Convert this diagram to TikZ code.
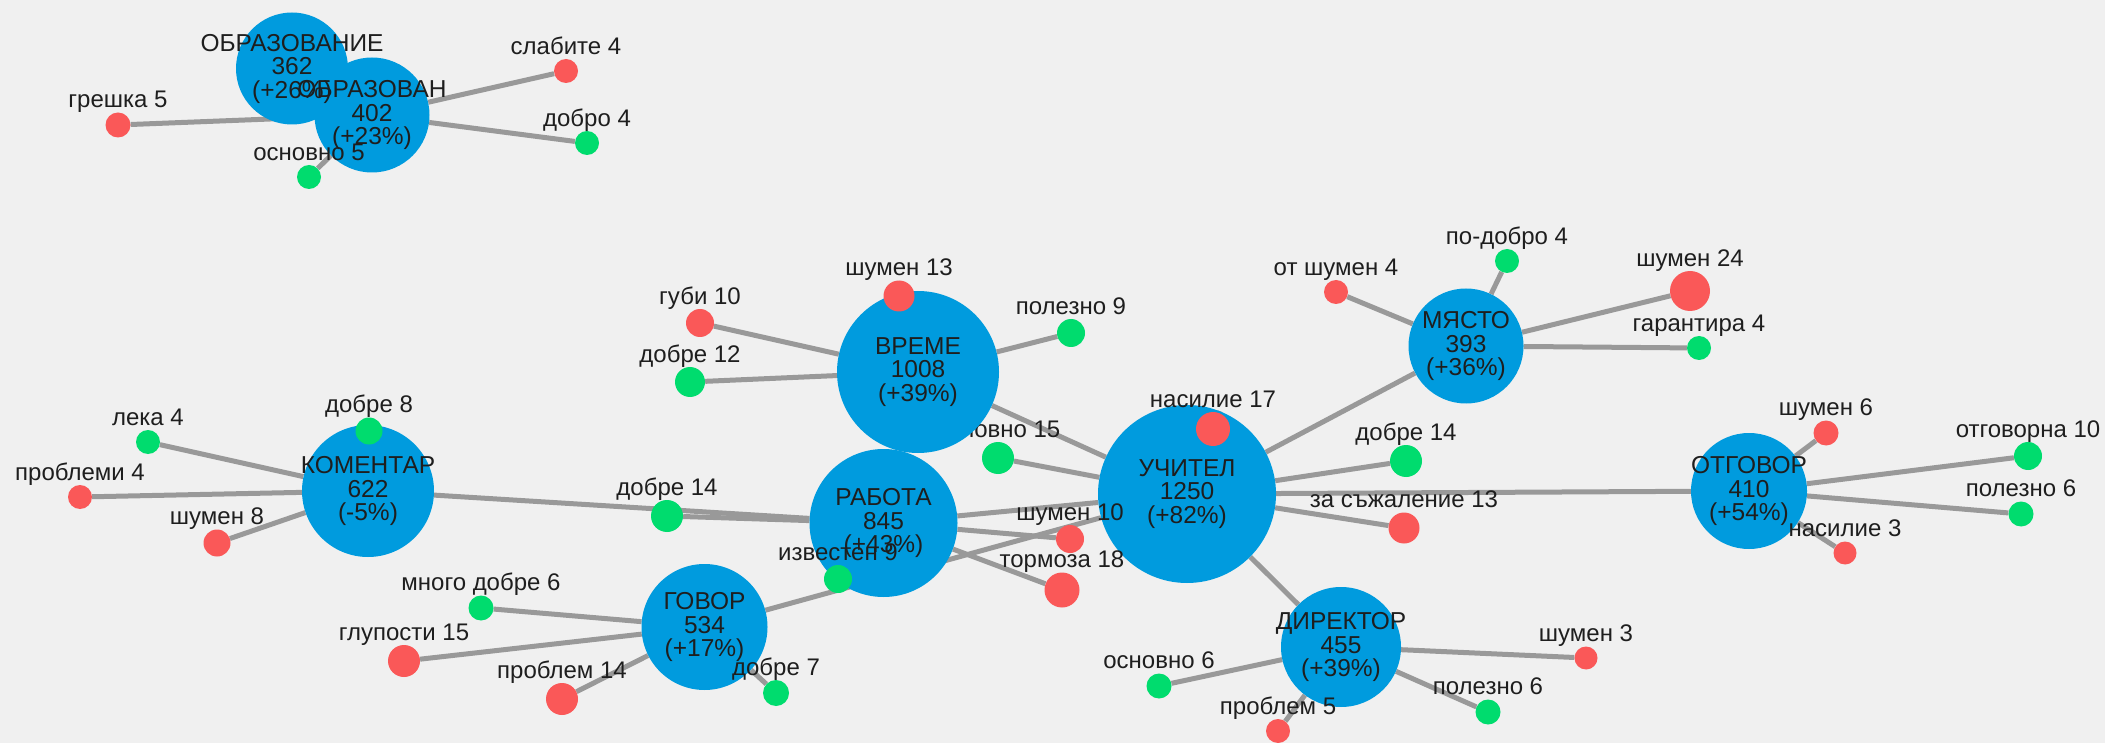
\documentclass[tikz,border=0pt]{standalone}
\usepackage{fontspec}
\setmainfont{Liberation Sans}
\definecolor{bgc}{RGB}{240,240,240}
\definecolor{kwblue}{RGB}{0,155,222}
\definecolor{wred}{RGB}{250,88,88}
\definecolor{wgreen}{RGB}{0,220,110}
\definecolor{linkgray}{RGB}{153,153,153}
\definecolor{txt}{RGB}{30,30,30}
\pgfdeclarelayer{edges}
\pgfsetlayers{edges,main}
\begin{document}
\begin{tikzpicture}[x=1pt,y=-1pt,
    kw/.style={circle,fill=kwblue,inner sep=0pt},
    kwlabel/.style={align=center,text=txt,inner sep=0pt,font=\fontsize{24.5}{23.5}\selectfont},
    goodword/.style={circle,fill=wgreen,inner sep=0pt},
    badword/.style={circle,fill=wred,inner sep=0pt},
    wlabel/.style={anchor=base,text=txt,inner sep=0pt,font=\fontsize{24}{24}\selectfont},
    link/.style={draw=linkgray,line width=5pt}]
    \useasboundingbox (0,0) rectangle (2105,743);

    % word hidden partly behind ВРЕМЕ
    \node[goodword,minimum size=32pt] (osnovnoB) at (998,458) {};
    \node[wlabel] at ([yshift=4.5pt]osnovnoB.north) {основно 15};

    % keyword circles
    \node[kw,minimum size=115pt] (obrazovan) at (372,115) {};
    \node[kw,minimum size=112pt] (obrazovanie) at (292,68.5) {};
    \node[kw,minimum size=162pt] (vreme) at (918,372) {};
    \node[kw,minimum size=132pt] (komentar) at (368,491) {};
    \node[kw,minimum size=148pt] (rabota) at (883.5,523) {};
    \node[kw,minimum size=126pt] (govor) at (704.5,627) {};
    \node[kw,minimum size=178pt] (uchitel) at (1187,494) {};
    \node[kw,minimum size=115pt] (myasto) at (1466,346) {};
    \node[kw,minimum size=116pt] (otgovor) at (1749,491) {};
    \node[kw,minimum size=120pt] (direktor) at (1341,647) {};

    \node[kwlabel] at (obrazovan) {ОБРАЗОВАН\\402\\(+23\%)};
    \node[kwlabel] at (obrazovanie) {ОБРАЗОВАНИЕ\\362\\(+26\%)};
    \node[kwlabel] at (vreme) {ВРЕМЕ\\1008\\(+39\%)};
    \node[kwlabel] at (komentar) {КОМЕНТАР\\622\\(-5\%)};
    \node[kwlabel] at (rabota) {РАБОТА\\845\\(+43\%)};
    \node[kwlabel] at (govor) {ГОВОР\\534\\(+17\%)};
    \node[kwlabel] at (uchitel) {УЧИТЕЛ\\1250\\(+82\%)};
    \node[kwlabel] at (myasto) {МЯСТО\\393\\(+36\%)};
    \node[kwlabel] at (otgovor) {ОТГОВОР\\410\\(+54\%)};
    \node[kwlabel] at (direktor) {ДИРЕКТОР\\455\\(+39\%)};

    % words of ОБРАЗОВАН
    \node[badword,minimum size=25pt] (greshka) at (118,125) {};
    \node[wlabel] at ([yshift=4.5pt]greshka.north) {грешка 5};
    \node[badword,minimum size=24pt] (slabite) at (566,71) {};
    \node[wlabel] at ([yshift=4.5pt]slabite.north) {слабите 4};
    \node[goodword,minimum size=24pt] (dobro) at (587,143) {};
    \node[wlabel] at ([yshift=4.5pt]dobro.north) {добро 4};
    \node[goodword,minimum size=24pt] (osnovnoA) at (309,177) {};
    \node[wlabel] at ([yshift=4.5pt]osnovnoA.north) {основно 5};

    % words of ВРЕМЕ
    \node[badword,minimum size=31pt] (shumenA) at (899,296) {};
    \node[wlabel] at ([yshift=4.5pt]shumenA.north) {шумен 13};
    \node[badword,minimum size=28pt] (gubi) at (700,323) {};
    \node[wlabel] at ([yshift=4.5pt]gubi.north) {губи 10};
    \node[goodword,minimum size=30pt] (dobreA) at (690,382) {};
    \node[wlabel] at ([yshift=4.5pt]dobreA.north) {добре 12};
    \node[goodword,minimum size=28pt] (polezenA) at (1071,333) {};
    \node[wlabel] at ([yshift=4.5pt]polezenA.north) {полезно 9};

    % words of УЧИТЕЛ
    \node[badword,minimum size=34pt] (nasilieA) at (1213,429) {};
    \node[wlabel] at ([yshift=4.5pt]nasilieA.north) {насилие 17};
    \node[goodword,minimum size=32pt] (dobreB) at (1406,461) {};
    \node[wlabel] at ([yshift=4.5pt]dobreB.north) {добре 14};
    \node[badword,minimum size=31pt] (zhal) at (1404,528) {};
    \node[wlabel] at ([yshift=4.5pt]zhal.north) {за съжаление 13};

    % words of МЯСТО
    \node[badword,minimum size=24pt] (otshumen) at (1336,292) {};
    \node[wlabel] at ([yshift=4.5pt]otshumen.north) {от шумен 4};
    \node[goodword,minimum size=24pt] (podobro) at (1507,261) {};
    \node[wlabel] at ([yshift=4.5pt]podobro.north) {по-добро 4};
    \node[badword,minimum size=40pt] (shumenB) at (1690,291) {};
    \node[wlabel] at ([yshift=4.5pt]shumenB.north) {шумен 24};
    \node[goodword,minimum size=24pt] (garant) at (1699,348) {};
    \node[wlabel] at ([yshift=4.5pt]garant.north) {гарантира 4};

    % words of ОТГОВОР
    \node[badword,minimum size=25pt] (shumenC) at (1826,433) {};
    \node[wlabel] at ([yshift=4.5pt]shumenC.north) {шумен 6};
    \node[goodword,minimum size=28pt] (otgovorna) at (2028,456) {};
    \node[wlabel] at ([yshift=4.5pt]otgovorna.north) {отговорна 10};
    \node[goodword,minimum size=25pt] (polezenB) at (2021,514) {};
    \node[wlabel] at ([yshift=4.5pt]polezenB.north) {полезно 6};
    \node[badword,minimum size=23pt] (nasilieB) at (1845,553) {};
    \node[wlabel] at ([yshift=4.5pt]nasilieB.north) {насилие 3};

    % words of КОМЕНТАР
    \node[goodword,minimum size=24pt] (leka) at (148,442) {};
    \node[wlabel] at ([yshift=4.5pt]leka.north) {лека 4};
    \node[badword,minimum size=24pt] (problemi) at (80,497) {};
    \node[wlabel] at ([yshift=4.5pt]problemi.north) {проблеми 4};
    \node[badword,minimum size=27pt] (shumenD) at (217,543) {};
    \node[wlabel] at ([yshift=4.5pt]shumenD.north) {шумен 8};
    \node[goodword,minimum size=27pt] (dobreC) at (369,431) {};
    \node[wlabel] at ([yshift=4.5pt]dobreC.north) {добре 8};

    % words of РАБОТА
    \node[goodword,minimum size=32pt] (dobreD) at (667,516) {};
    \node[wlabel] at ([yshift=4.5pt]dobreD.north) {добре 14};
    \node[badword,minimum size=28pt] (shumenE) at (1070,539) {};
    \node[wlabel] at ([yshift=4.5pt]shumenE.north) {шумен 10};
    \node[badword,minimum size=35pt] (tormoza) at (1062,590) {};
    \node[wlabel] at ([yshift=4.5pt]tormoza.north) {тормоза 18};
    \node[goodword,minimum size=28pt] (izvesten) at (838,579) {};
    \node[wlabel] at ([yshift=4.5pt]izvesten.north) {известен 9};

    % words of ГОВОР
    \node[goodword,minimum size=25pt] (mnogo) at (481,608) {};
    \node[wlabel] at ([yshift=4.5pt]mnogo.north) {много добре 6};
    \node[badword,minimum size=32pt] (glupost) at (404,661) {};
    \node[wlabel] at ([yshift=4.5pt]glupost.north) {глупости 15};
    \node[badword,minimum size=32pt] (problemA) at (562,699) {};
    \node[wlabel] at ([yshift=4.5pt]problemA.north) {проблем 14};
    \node[goodword,minimum size=26pt] (dobreE) at (776,693) {};
    \node[wlabel] at ([yshift=4.5pt]dobreE.north) {добре 7};

    % words of ДИРЕКТОР
    \node[goodword,minimum size=25pt] (osnovnoC) at (1159,686) {};
    \node[wlabel] at ([yshift=4.5pt]osnovnoC.north) {основно 6};
    \node[badword,minimum size=24pt] (problemB) at (1278,731) {};
    \node[wlabel] at ([yshift=4.5pt]problemB.north) {проблем 5};
    \node[goodword,minimum size=25pt] (polezenC) at (1488,712) {};
    \node[wlabel] at ([yshift=4.5pt]polezenC.north) {полезно 6};
    \node[badword,minimum size=23pt] (shumenF) at (1586,658) {};
    \node[wlabel] at ([yshift=4.5pt]shumenF.north) {шумен 3};

    % links, under everything
    \begin{pgfonlayer}{edges}
    \fill[bgc] (0,0) rectangle (2105,743);
    \draw[link] (obrazovan) -- (greshka);
    \draw[link] (obrazovan) -- (slabite);
    \draw[link] (obrazovan) -- (dobro);
    \draw[link] (obrazovan) -- (osnovnoA);
    \draw[link] (vreme) -- (shumenA);
    \draw[link] (vreme) -- (gubi);
    \draw[link] (vreme) -- (dobreA);
    \draw[link] (vreme) -- (polezenA);
    \draw[link] (vreme) -- (uchitel);
    \draw[link] (uchitel) -- (osnovnoB);
    \draw[link] (uchitel) -- (nasilieA);
    \draw[link] (uchitel) -- (dobreB);
    \draw[link] (uchitel) -- (zhal);
    \draw[link] (uchitel) -- (myasto);
    \draw[link] (uchitel) -- (otgovor);
    \draw[link] (uchitel) -- (direktor);
    \draw[link] (uchitel) -- (rabota);
    \draw[link] (uchitel) -- (govor);
    \draw[link] (myasto) -- (otshumen);
    \draw[link] (myasto) -- (podobro);
    \draw[link] (myasto) -- (shumenB);
    \draw[link] (myasto) -- (garant);
    \draw[link] (otgovor) -- (shumenC);
    \draw[link] (otgovor) -- (otgovorna);
    \draw[link] (otgovor) -- (polezenB);
    \draw[link] (otgovor) -- (nasilieB);
    \draw[link] (komentar) -- (leka);
    \draw[link] (komentar) -- (problemi);
    \draw[link] (komentar) -- (shumenD);
    \draw[link] (komentar) -- (dobreC);
    \draw[link] (komentar) -- (rabota);
    \draw[link] (rabota) -- (dobreD);
    \draw[link] (rabota) -- (shumenE);
    \draw[link] (rabota) -- (tormoza);
    \draw[link] (rabota) -- (izvesten);
    \draw[link] (govor) -- (mnogo);
    \draw[link] (govor) -- (glupost);
    \draw[link] (govor) -- (problemA);
    \draw[link] (govor) -- (dobreE);
    \draw[link] (direktor) -- (osnovnoC);
    \draw[link] (direktor) -- (problemB);
    \draw[link] (direktor) -- (polezenC);
    \draw[link] (direktor) -- (shumenF);
    \end{pgfonlayer}
\end{tikzpicture}
\end{document}
